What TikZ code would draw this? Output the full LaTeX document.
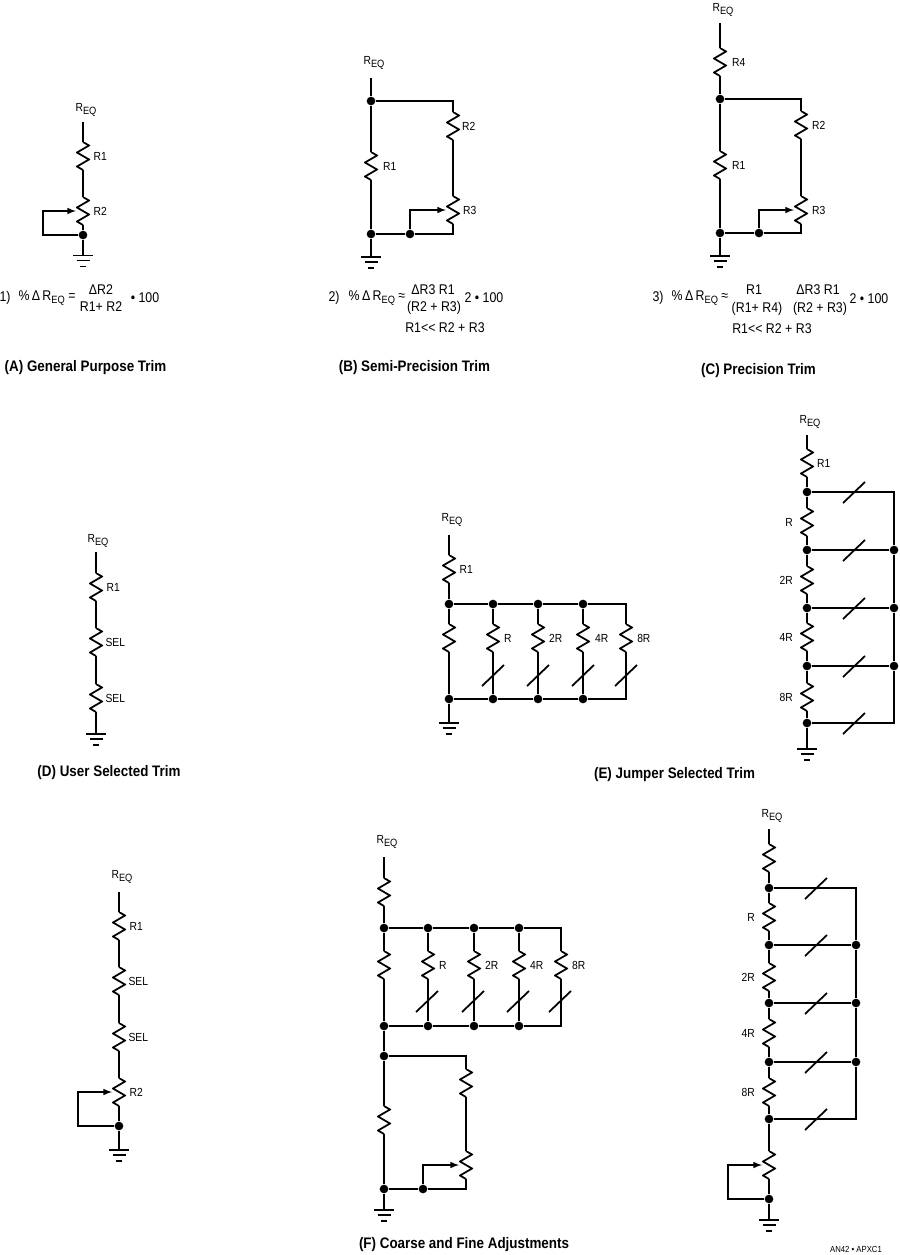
\documentclass[tikz,border=0pt]{standalone}
\usepackage{fontspec}
\setmainfont[FakeStretch=0.88]{Liberation Sans}
\usetikzlibrary{positioning}

\tikzstyle{wire} = [draw, line width=1.5pt]
\tikzstyle{arrow} = [draw, line width=1.5pt, -latex]
\tikzstyle{lab} = [inner sep=0pt, font=\fontsize{10}{12}\selectfont]
\tikzstyle{eqn} = [inner sep=0pt, font=\fontsize{12}{14}\selectfont]
\tikzstyle{title} = [inner sep=0pt, font=\fontsize{13}{15}\selectfont\bfseries]
\tikzstyle{dot} = [circle, fill=black, inner sep=0pt, minimum size=0.26cm]
\tikzstyle{res} = [rectangle, inner sep=0pt, outer sep=0pt, minimum width=0.42cm, minimum height=0.84cm,
    path picture={\draw[wire, shift={(path picture bounding box.center)}]
        (0,-14) -- (6,-10.5) -- (-6,-3.5) -- (6,3.5) -- (-6,10.5) -- (0,14);}]
\tikzstyle{gnd} = [rectangle, inner sep=0pt, outer sep=0pt, minimum width=0.66cm, minimum height=0.42cm,
    path picture={\draw[wire, shift={(path picture bounding box.center)}]
        (-10,-6) -- (10,-6) (-6.5,-1) -- (6.5,-1) (-3,5) -- (3,5);}]
\tikzset{slash/.pic={\draw[wire] (-11,11) -- (11,-10);}}
\newcommand{\req}{R\raisebox{-0.45ex}{\fontsize{9}{10}\selectfont EQ}}
\newcommand{\dR}{\%$\,$Δ$\,$\req}

\begin{document}
\begin{tikzpicture}[x=0.03cm, y=-0.03cm, node distance=1cm, auto]
    \path[use as bounding box] (0,0) rectangle (900,1255);

    % (A)
    \node[lab] (aReq) at (86,110) {\req};
    \coordinate (aTop) at (83,122);
    \node[res] (aR1) at (83,156) {};
    \node[res, below of=aR1, node distance=1.65cm] (aR2) {};
    \node[dot] (aDot) at (83,235) {};
    \coordinate (aLoop) at (43,235);
    \node[gnd, below=0.45cm of aDot] (aGnd) {};
    \node[lab, right=0.1cm of aR1] (aR1Lab) {R1};
    \node[lab, right=0.1cm of aR2] (aR2Lab) {R2};
    \draw [wire] (aTop) -- (aR1) -- (aR2) -- (aDot) -- (aGnd);
    \draw [arrow] (aDot) -- (aLoop) |- (aR2.west);
    \node[eqn] (aEqNo) at (5,298) {1)};
    \node[eqn] (aEq) at (47,298) {\dR\ =};
    \node[eqn] (aNum) at (101,290) {ΔR2};
    \node[eqn] (aDen) at (101,307) {R1+ R2};
    \node[eqn] (aHun) at (145,298) {• 100};
    \node[title] (aCap) at (85.5,368) {(A) General Purpose Trim};

    % (B)
    \node[lab] (bReq) at (374,63) {\req};
    \coordinate (bTop) at (371,78);
    \node[dot] (bDotT) at (371,101) {};
    \node[res] (bR1) at (371,166) {};
    \node[dot] (bDotB) at (371,234) {};
    \node[dot, right of=bDotB, node distance=1.17cm] (bDotW) {};
    \node[res] (bR2) at (453,126) {};
    \node[res, below of=bR2, node distance=2.52cm] (bR3) {};
    \node[gnd, below=0.52cm of bDotB] (bGnd) {};
    \node[lab, right=0.15cm of bR1] (bR1Lab) {R1};
    \node[lab, right=0.06cm of bR2] (bR2Lab) {R2};
    \node[lab, right=0.09cm of bR3] (bR3Lab) {R3};
    \draw [wire] (bTop) -- (bDotT) -- (bR1) -- (bDotB) -- (bGnd);
    \draw [wire] (bDotT) -| (bR2);
    \draw [wire] (bR2) -- (bR3);
    \draw [wire] (bR3) |- (bDotW);
    \draw [wire] (bDotW) -- (bDotB);
    \draw [arrow] (bDotW) |- (bR3.west);
    \node[eqn] (bEqNo) at (334,298) {2)};
    \node[eqn] (bEq) at (377,298) {\dR\ ≈};
    \node[eqn] (bNum) at (433,290) {ΔR3 R1};
    \node[eqn] (bDen) at (434,308) {(R2 + R3)};
    \node[eqn] (bHun) at (484,298) {2 • 100};
    \node[eqn] (bCond) at (445,328) {R1{<}{<} R2 + R3};
    \node[title] (bCap) at (414.5,368) {(B) Semi-Precision Trim};

    % (C)
    \node[lab] (cReq) at (723,10) {\req};
    \coordinate (cTop) at (720,23);
    \node[res] (cR4) at (720,62) {};
    \node[dot] (cDotT) at (720,99) {};
    \node[res] (cR1) at (720,165) {};
    \node[dot] (cDotB) at (720,233) {};
    \node[dot, right of=cDotB, node distance=1.17cm] (cDotW) {};
    \node[res] (cR2) at (801,125) {};
    \node[res, below of=cR2, node distance=2.55cm] (cR3) {};
    \node[gnd, below=0.52cm of cDotB] (cGnd) {};
    \node[lab, right=0.15cm of cR4] (cR4Lab) {R4};
    \node[lab, right=0.15cm of cR1] (cR1Lab) {R1};
    \node[lab, right=0.12cm of cR2] (cR2Lab) {R2};
    \node[lab, right=0.12cm of cR3] (cR3Lab) {R3};
    \draw [wire] (cTop) -- (cR4) -- (cDotT) -- (cR1) -- (cDotB) -- (cGnd);
    \draw [wire] (cDotT) -| (cR2);
    \draw [wire] (cR2) -- (cR3);
    \draw [wire] (cR3) |- (cDotW);
    \draw [wire] (cDotW) -- (cDotB);
    \draw [arrow] (cDotW) |- (cR3.west);
    \node[eqn] (cEqNo) at (658,298) {3)};
    \node[eqn] (cEq) at (700,298) {\dR\ ≈};
    \node[eqn] (cNumA) at (754,290) {R1};
    \node[eqn] (cDenA) at (757,309) {(R1+ R4)};
    \node[eqn] (cNumB) at (818,290) {ΔR3 R1};
    \node[eqn] (cDenB) at (820,309) {(R2 + R3)};
    \node[eqn] (cHun) at (869,299) {2 • 100};
    \node[eqn] (cCond) at (772,329) {R1{<}{<} R2 + R3};
    \node[title] (cCap) at (758.5,371) {(C) Precision Trim};

    % (D)
    \node[lab] (dReq) at (98,541) {\req};
    \coordinate (dTop) at (96,552);
    \node[res] (dR1) at (96,587) {};
    \node[res, below of=dR1, node distance=1.65cm] (dSelA) {};
    \node[res, below of=dSelA, node distance=1.68cm] (dSelB) {};
    \node[gnd] (dGnd) at (96,740) {};
    \node[lab, right=0.1cm of dR1] (dR1Lab) {R1};
    \node[lab, right=0.07cm of dSelA] (dSelALab) {SEL};
    \node[lab, right=0.07cm of dSelB] (dSelBLab) {SEL};
    \draw [wire] (dTop) -- (dR1) -- (dSelA) -- (dSelB) -- (dGnd);
    \node[title] (dCap) at (109,773) {(D) User Selected Trim};

    % (E) parallel
    \node[lab] (eReq) at (452,520) {\req};
    \coordinate (eTop) at (449,535);
    \node[res] (eR1) at (449,569) {};
    \node[dot] (eDotT) at (449,604) {};
    \node[dot, right of=eDotT, node distance=1.32cm] (eDotTa) {};
    \node[dot, right of=eDotTa, node distance=1.35cm] (eDotTb) {};
    \node[dot, right of=eDotTb, node distance=1.35cm] (eDotTc) {};
    \node[res] (eR0) at (449,638) {};
    \node[res, below of=eDotTa, node distance=1.02cm] (eRa) {};
    \node[res, below of=eDotTb, node distance=1.02cm] (eRb) {};
    \node[res, below of=eDotTc, node distance=1.02cm] (eRc) {};
    \node[res, right of=eRc, node distance=1.29cm] (eRd) {};
    \node[dot] (eDotB) at (449,699) {};
    \node[dot, right of=eDotB, node distance=1.32cm] (eDotBa) {};
    \node[dot, right of=eDotBa, node distance=1.35cm] (eDotBb) {};
    \node[dot, right of=eDotBb, node distance=1.35cm] (eDotBc) {};
    \node[gnd, below=0.56cm of eDotB] (eGnd) {};
    \node[lab, right=0.1cm of eR1] (eR1Lab) {R1};
    \node[lab, right=0.12cm of eRa] (eRaLab) {R};
    \node[lab, right=0.12cm of eRb] (eRbLab) {2R};
    \node[lab, right=0.15cm of eRc] (eRcLab) {4R};
    \node[lab, right=0.12cm of eRd] (eRdLab) {8R};
    \draw [wire] (eTop) -- (eR1) -- (eDotT) -- (eR0) -- (eDotB) -- (eGnd);
    \draw [wire] (eDotT) -- (eDotTa) -- (eDotTb) -- (eDotTc) -| (eRd);
    \draw [wire] (eDotTa) -- (eRa) -- (eDotBa);
    \draw [wire] (eDotTb) -- (eRb) -- (eDotBb);
    \draw [wire] (eDotTc) -- (eRc) -- (eDotBc);
    \draw [wire] (eRd) |- (eDotBc);
    \draw [wire] (eDotB) -- (eDotBa) -- (eDotBb) -- (eDotBc);
    \pic (eSwA) at (493,675) {slash};
    \pic (eSwB) at (538,675) {slash};
    \pic (eSwC) at (583,675) {slash};
    \pic (eSwD) at (626,675) {slash};

    % (E) series
    \node[lab] (gReq) at (810,422) {\req};
    \coordinate (gTop) at (807,435);
    \node[res] (gR1) at (807,463) {};
    \node[dot] (gDotA) at (807,492) {};
    \node[res] (gRa) at (807,522) {};
    \node[dot] (gDotB) at (807,550) {};
    \node[res] (gRb) at (807,580) {};
    \node[dot] (gDotC) at (807,608) {};
    \node[res] (gRc) at (807,637) {};
    \node[dot] (gDotD) at (807,666) {};
    \node[res] (gRd) at (807,697) {};
    \node[dot] (gDotE) at (807,723) {};
    \node[gnd, below=0.61cm of gDotE] (gGnd) {};
    \node[dot, right of=gDotB, node distance=2.61cm] (gDotBr) {};
    \node[dot, right of=gDotC, node distance=2.61cm] (gDotCr) {};
    \node[dot, right of=gDotD, node distance=2.61cm] (gDotDr) {};
    \node[lab, right=0.09cm of gR1] (gR1Lab) {R1};
    \node[lab, left=0.21cm of gRa] (gRaLab) {R};
    \node[lab, left=0.21cm of gRb] (gRbLab) {2R};
    \node[lab, left=0.21cm of gRc] (gRcLab) {4R};
    \node[lab, left=0.21cm of gRd] (gRdLab) {8R};
    \draw [wire] (gTop) -- (gR1) -- (gDotA) -- (gRa) -- (gDotB) -- (gRb) -- (gDotC) -- (gRc) -- (gDotD) -- (gRd) -- (gDotE) -- (gGnd);
    \draw [wire] (gDotA) -| (gDotBr);
    \draw [wire] (gDotB) -- (gDotBr) -- (gDotCr) -- (gDotDr);
    \draw [wire] (gDotC) -- (gDotCr);
    \draw [wire] (gDotD) -- (gDotDr);
    \draw [wire] (gDotE) -| (gDotDr);
    \pic (gSwA) at (854,492) {slash};
    \pic (gSwB) at (854,550) {slash};
    \pic (gSwC) at (854,608) {slash};
    \pic (gSwD) at (854,666) {slash};
    \pic (gSwE) at (854,723) {slash};
    \node[title] (eCap) at (674.5,775) {(E) Jumper Selected Trim};

    % (F) left
    \node[lab] (fReq) at (122,877) {\req};
    \coordinate (fTop) at (119,892);
    \node[res] (fR1) at (119,926) {};
    \node[res, below of=fR1, node distance=1.65cm] (fSelA) {};
    \node[res, below of=fSelA, node distance=1.68cm] (fSelB) {};
    \node[res, below of=fSelB, node distance=1.65cm] (fR2) {};
    \node[dot] (fDot) at (119,1126) {};
    \coordinate (fLoop) at (78,1126);
    \node[gnd, below=0.56cm of fDot] (fGnd) {};
    \node[lab, right=0.1cm of fR1] (fR1Lab) {R1};
    \node[lab, right=0.07cm of fSelA] (fSelALab) {SEL};
    \node[lab, right=0.07cm of fSelB] (fSelBLab) {SEL};
    \node[lab, right=0.1cm of fR2] (fR2Lab) {R2};
    \draw [wire] (fTop) -- (fR1) -- (fSelA) -- (fSelB) -- (fR2) -- (fDot) -- (fGnd);
    \draw [arrow] (fDot) -- (fLoop) |- (fR2.west);

    % (F) middle
    \node[lab] (hReq) at (387,842) {\req};
    \coordinate (hTop) at (384,857);
    \node[res] (hR0) at (384,892) {};
    \node[dot] (hDotT) at (384,928) {};
    \node[dot, right of=hDotT, node distance=1.32cm] (hDotTa) {};
    \node[dot, right of=hDotTa, node distance=1.38cm] (hDotTb) {};
    \node[dot, right of=hDotTb, node distance=1.35cm] (hDotTc) {};
    \node[res] (hRe) at (384,965) {};
    \node[res, below of=hDotTa, node distance=1.11cm] (hRa) {};
    \node[res, below of=hDotTb, node distance=1.11cm] (hRb) {};
    \node[res, below of=hDotTc, node distance=1.11cm] (hRc) {};
    \node[res, right of=hRc, node distance=1.26cm] (hRd) {};
    \node[dot] (hDotB) at (384,1026) {};
    \node[dot, right of=hDotB, node distance=1.32cm] (hDotBa) {};
    \node[dot, right of=hDotBa, node distance=1.38cm] (hDotBb) {};
    \node[dot, right of=hDotBb, node distance=1.35cm] (hDotBc) {};
    \node[dot] (hDotP) at (384,1056) {};
    \node[res] (hRf) at (384,1120) {};
    \node[dot] (hDotG) at (384,1189) {};
    \node[dot, right of=hDotG, node distance=1.17cm] (hDotW) {};
    \node[res] (hRg) at (466,1083) {};
    \node[res, below of=hRg, node distance=2.46cm] (hRh) {};
    \node[gnd, below=0.47cm of hDotG] (hGnd) {};
    \node[lab, right=0.12cm of hRa] (hRaLab) {R};
    \node[lab, right=0.12cm of hRb] (hRbLab) {2R};
    \node[lab, right=0.12cm of hRc] (hRcLab) {4R};
    \node[lab, right=0.12cm of hRd] (hRdLab) {8R};
    \draw [wire] (hTop) -- (hR0) -- (hDotT) -- (hRe) -- (hDotB) -- (hDotP) -- (hRf) -- (hDotG) -- (hGnd);
    \draw [wire] (hDotT) -- (hDotTa) -- (hDotTb) -- (hDotTc) -| (hRd);
    \draw [wire] (hDotTa) -- (hRa) -- (hDotBa);
    \draw [wire] (hDotTb) -- (hRb) -- (hDotBb);
    \draw [wire] (hDotTc) -- (hRc) -- (hDotBc);
    \draw [wire] (hRd) |- (hDotBc);
    \draw [wire] (hDotB) -- (hDotBa) -- (hDotBb) -- (hDotBc);
    \draw [wire] (hDotP) -| (hRg);
    \draw [wire] (hRg) -- (hRh);
    \draw [wire] (hRh) |- (hDotW);
    \draw [wire] (hDotW) -- (hDotG);
    \draw [arrow] (hDotW) |- (hRh.west);
    \pic (hSwA) at (427,1001) {slash};
    \pic (hSwB) at (473,1001) {slash};
    \pic (hSwC) at (518,1001) {slash};
    \pic (hSwD) at (560,1001) {slash};
    \node[title] (hCap) at (464,1245) {(F) Coarse and Fine Adjustments};

    % (F) right
    \node[lab] (iReq) at (772,816) {\req};
    \coordinate (iTop) at (769,829);
    \node[res] (iR0) at (769,858) {};
    \node[dot] (iDotA) at (769,888) {};
    \node[res] (iRa) at (769,917) {};
    \node[dot] (iDotB) at (769,945) {};
    \node[res] (iRb) at (769,977) {};
    \node[dot] (iDotC) at (769,1003) {};
    \node[res] (iRc) at (769,1033) {};
    \node[dot] (iDotD) at (769,1062) {};
    \node[res] (iRd) at (769,1092) {};
    \node[dot] (iDotE) at (769,1119) {};
    \node[res] (iRe) at (769,1165) {};
    \node[dot] (iDotF) at (769,1199) {};
    \coordinate (iLoop) at (728,1199);
    \node[gnd, below=0.47cm of iDotF] (iGnd) {};
    \node[dot, right of=iDotB, node distance=2.61cm] (iDotBr) {};
    \node[dot, right of=iDotC, node distance=2.61cm] (iDotCr) {};
    \node[dot, right of=iDotD, node distance=2.61cm] (iDotDr) {};
    \node[lab, left=0.21cm of iRa] (iRaLab) {R};
    \node[lab, left=0.21cm of iRb] (iRbLab) {2R};
    \node[lab, left=0.21cm of iRc] (iRcLab) {4R};
    \node[lab, left=0.21cm of iRd] (iRdLab) {8R};
    \draw [wire] (iTop) -- (iR0) -- (iDotA) -- (iRa) -- (iDotB) -- (iRb) -- (iDotC) -- (iRc) -- (iDotD) -- (iRd) -- (iDotE) -- (iRe) -- (iDotF) -- (iGnd);
    \draw [wire] (iDotA) -| (iDotBr);
    \draw [wire] (iDotB) -- (iDotBr) -- (iDotCr) -- (iDotDr);
    \draw [wire] (iDotC) -- (iDotCr);
    \draw [wire] (iDotD) -- (iDotDr);
    \draw [wire] (iDotE) -| (iDotDr);
    \draw [arrow] (iDotF) -- (iLoop) |- (iRe.west);
    \pic (iSwA) at (816,888) {slash};
    \pic (iSwB) at (816,945) {slash};
    \pic (iSwC) at (816,1003) {slash};
    \pic (iSwD) at (816,1062) {slash};
    \pic (iSwE) at (816,1119) {slash};
    \node[inner sep=0pt, font=\fontsize{7.5}{9}\selectfont] (iMark) at (856,1249) {AN42 • APXC1};
\end{tikzpicture}
\end{document}
